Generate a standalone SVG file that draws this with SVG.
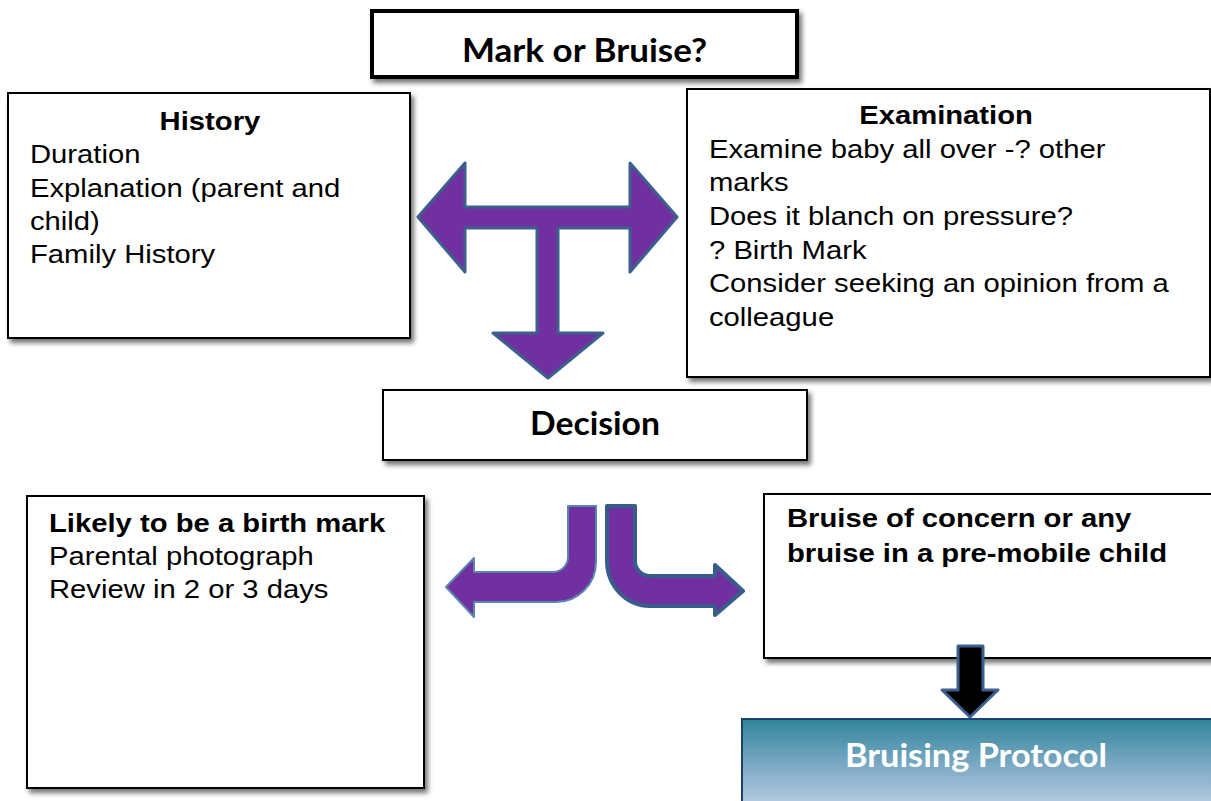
<svg xmlns="http://www.w3.org/2000/svg" width="1211" height="801" viewBox="0 0 1211 801">
<defs>
<filter id="sh" x="-10%" y="-10%" width="125%" height="130%">
<feDropShadow dx="3" dy="4" stdDeviation="2.5" flood-color="#000" flood-opacity="0.55"/>
</filter>
<linearGradient id="gp" x1="0" y1="0" x2="0" y2="1">
<stop offset="0" stop-color="#31849B"/>
<stop offset="0.55" stop-color="#7FABC6"/>
<stop offset="1" stop-color="#B9CDE5"/>
</linearGradient>
<style>
.box{fill:#fff;stroke:#000;stroke-width:2}
.t{font-family:"Liberation Sans",Arial,sans-serif;font-size:25px;fill:#000}
.b{font-weight:bold}
.c{font-family:Lato,"Open Sans",sans-serif;font-weight:bold;fill:#000}
.arr{fill:#7030A0;stroke:#3C5F8E;stroke-width:3;stroke-linejoin:round}
</style>
</defs>

<g id="mark">
<rect x="372" y="11" width="425" height="66" class="box" style="stroke-width:4" filter="url(#sh)"/>
<text x="584.5" y="62" class="c" font-size="32" text-anchor="middle" textLength="245" lengthAdjust="spacingAndGlyphs">Mark or Bruise?</text>
</g>

<g id="history">
<rect x="8" y="93" width="402" height="245" class="box" filter="url(#sh)"/>
<g transform="translate(30 0) scale(1.17 1)">
<text x="153.8" y="130" class="t b" text-anchor="middle">History</text>
<text x="0" y="163" class="t">Duration</text>
<text x="0" y="197" class="t">Explanation (parent and</text>
<text x="0" y="230" class="t">child)</text>
<text x="0" y="263" class="t">Family History</text>
</g>
</g>

<g id="examination">
<rect x="687" y="89" width="523" height="288" class="box" filter="url(#sh)"/>
<g transform="translate(709 0) scale(1.17 1)">
<text x="202.6" y="124" class="t b" text-anchor="middle">Examination</text>
<text x="0" y="158" class="t">Examine baby all over -? other</text>
<text x="0" y="191.5" class="t">marks</text>
<text x="0" y="225" class="t">Does it blanch on pressure?</text>
<text x="0" y="259" class="t">? Birth Mark</text>
<text x="0" y="292.5" class="t">Consider seeking an opinion from a</text>
<text x="0" y="326" class="t">colleague</text>
</g>
</g>

<g id="decision">
<rect x="383" y="390" width="424" height="70" class="box" filter="url(#sh)"/>
<text x="595" y="435" class="c" font-size="32" text-anchor="middle" textLength="130" lengthAdjust="spacingAndGlyphs">Decision</text>
</g>

<g id="birthmark">
<rect x="27" y="496" width="397" height="292" class="box" filter="url(#sh)"/>
<g transform="translate(49 0) scale(1.17 1)">
<text x="0" y="532" class="t b">Likely to be a birth mark</text>
<text x="0" y="565" class="t">Parental photograph</text>
<text x="0" y="598.5" class="t">Review in 2 or 3 days</text>
</g>
</g>

<g id="bruise">
<rect x="764" y="494" width="450" height="164" class="box" filter="url(#sh)"/>
<g transform="translate(787 0) scale(1.17 1)">
<text x="0" y="527" class="t b">Bruise of concern or any</text>
<text x="0" y="562" class="t b">bruise in a pre-mobile child</text>
</g>
</g>

<g id="protocol">
<rect x="742" y="719" width="472" height="88" fill="url(#gp)" stroke="#1F3F6E" stroke-width="2"/>
<text x="976" y="767" class="c" font-size="33" text-anchor="middle" style="fill:#fff" textLength="262" lengthAdjust="spacingAndGlyphs">Bruising Protocol</text>
</g>

<g id="connectors">
<path class="arr" d="M418,217 L465,163 L465,207 L630,207 L630,163 L677,217 L630,272 L630,228 L558,228 L558,333 L603,333 L548,378 L493,333 L537,333 L537,228 L465,228 L465,272 Z"/>
<path class="arr" style="stroke:#5B84B1;stroke-width:2" d="M568,506 L596,506 L596,562 A40,40 0 0 1 556,602 L474,602 L474,617 L446,587 L474,558 L474,572 L553,572 A15,15 0 0 0 568,557 Z"/>
<path class="arr" style="stroke:#385D8A;stroke-width:4" d="M607,506 L635,506 L635,561 A15,15 0 0 0 650,576 L715,576 L715,565 L743,591 L715,615 L715,606 L650,606 A43,45 0 0 1 607,561 Z"/>
<path class="arr" style="fill:#000" d="M958,646 L983,646 L983,690 L998,690 L970,717 L942,690 L958,690 Z"/>
</g>
</svg>
